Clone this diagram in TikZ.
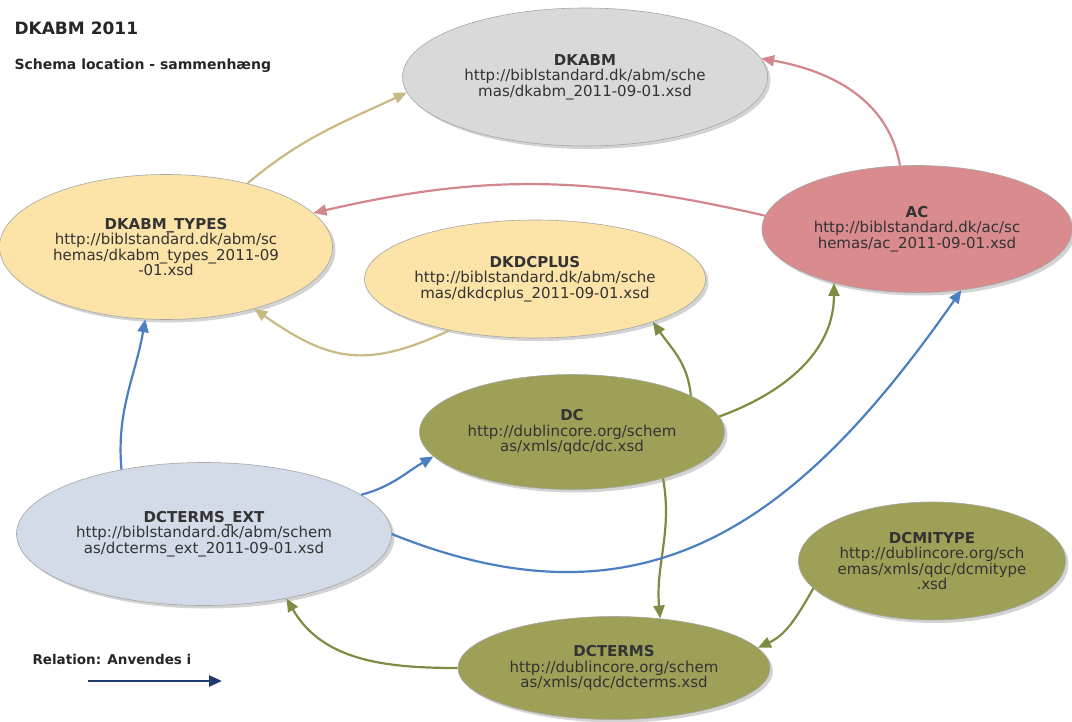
\documentclass[tikz,border=0pt]{standalone}
\usepackage{fontspec}
\setmainfont{DejaVu Sans}
\usetikzlibrary{arrows.meta,shapes.geometric,shadows}

\definecolor{grayfill}{HTML}{D9D9D9}
\definecolor{sandfill}{HTML}{FCE3A7}
\definecolor{rosefill}{HTML}{D98B8D}
\definecolor{olivefill}{HTML}{9EA057}
\definecolor{mistfill}{HTML}{D2DBE7}
\definecolor{sandline}{HTML}{EDDB9C}
\definecolor{roseline}{HTML}{D3878D}
\definecolor{oliveline}{HTML}{7D8C43}
\definecolor{blueline}{HTML}{4C7FC2}
\definecolor{navyline}{HTML}{1F3A6C}

\begin{document}
\begin{tikzpicture}[x=1pt, y=-1pt, ->, >={Triangle[length=13pt,width=11pt]},
	schema/.style={ellipse, draw=black!35, line width=0.6pt, inner sep=0pt, align=center, text=black!80, font=\fontsize{15}{15.5}\selectfont, drop shadow={opacity=0.35, shadow xshift=3pt, shadow yshift=-3pt}},
	link/.style={line width=2.2pt},
	sandlink/.style={link, draw=sandline!85!black},
	roselink/.style={link, draw=roseline},
	olivelink/.style={link, draw=oliveline},
	bluelink/.style={link, draw=blueline},
	heading/.style={anchor=west, text=black!85, font=\bfseries}]

		\useasboundingbox (0,0) rectangle (1072,722);

		\node[heading, font=\fontsize{17}{20}\selectfont\bfseries] (title) at (11,28) {DKABM 2011};
		\node[heading, font=\fontsize{14}{16}\selectfont\bfseries] (subtitle) at (11,66) {Schema location - sammenhæng};

		\node[schema, fill=grayfill, minimum width=365pt, minimum height=138pt] (dkabm) at (585,77)
			{\textbf{DKABM}\\http://biblstandard.dk/abm/sche\\mas/dkabm\_2011-09-01.xsd};
		\node[schema, fill=sandfill, minimum width=333pt, minimum height=145pt] (types) at (166,247)
			{\textbf{DKABM\_TYPES}\\http://biblstandard.dk/abm/sc\\hemas/dkabm\_types\_2011-09\\-01.xsd};
		\node[schema, fill=sandfill, minimum width=320pt, minimum height=118pt] (dkdcplus) at (535,279)
			{\textbf{DKDCPLUS}\\http://biblstandard.dk/abm/sche\\mas/dkdcplus\_2011-09-01.xsd};
		\node[schema, fill=rosefill, minimum width=310pt, minimum height=127pt] (ac) at (917,229)
			{\textbf{AC}\\http://biblstandard.dk/ac/sc\\hemas/ac\_2011-09-01.xsd};
		\node[schema, fill=olivefill, minimum width=305pt, minimum height=115pt] (dc) at (572,432)
			{\textbf{DC}\\http://dublincore.org/schem\\as/xmls/qdc/dc.xsd};
		\node[schema, fill=mistfill, minimum width=375pt, minimum height=143pt] (ext) at (204,534)
			{\textbf{DCTERMS\_EXT}\\http://biblstandard.dk/abm/schem\\as/dcterms\_ext\_2011-09-01.xsd};
		\node[schema, fill=olivefill, minimum width=264pt, minimum height=118pt] (dcmitype) at (932,561)
			{\textbf{DCMITYPE}\\http://dublincore.org/sch\\emas/xmls/qdc/dcmitype\\.xsd};
		\node[schema, fill=olivefill, minimum width=312pt, minimum height=103pt] (dcterms) at (614,668)
			{\textbf{DCTERMS}\\http://dublincore.org/schem\\as/xmls/qdc/dcterms.xsd};

		\path
		(types.38) edge[sandlink, out=40, in=205] (dkabm.185)
		(ac.105) edge[roselink, out=100, in=-10] (dkabm.6)
		(ac.175) edge[roselink, out=167, in=13] (types.13)
		(dkdcplus.211) edge[sandlink, out=205, in=325, looseness=1.2] (types.325)
		(dc.17) edge[olivelink, out=95, in=-55] (dkdcplus.340)
		(dc.6) edge[olivelink, out=20, in=270] (ac.213)
		(dc.333) edge[olivelink, out=-80, in=95] (dcterms.47)
		(ext.142) edge[bluelink, out=95, in=260] (types.254)
		(ext.14) edge[bluelink, out=15, in=210] (dc.190)
		(ext.0) edge[bluelink, out=-22, in=235, looseness=1.15] (ac.306)
		(dcmitype.193) edge[olivelink, out=240, in=25] (dcterms.8)
		(dcterms.180) edge[olivelink, out=180, in=300] (ext.322);

		\node[heading, font=\fontsize{13.5}{16}\selectfont\bfseries] (legend) at (29,659) {Relation: Anvendes i};
		\coordinate (legfrom) at (88,681);
		\coordinate (legto) at (222,681);
		\draw[link, line width=2.6pt, draw=navyline] (legfrom) -- (legto);

\end{tikzpicture}
\end{document}
